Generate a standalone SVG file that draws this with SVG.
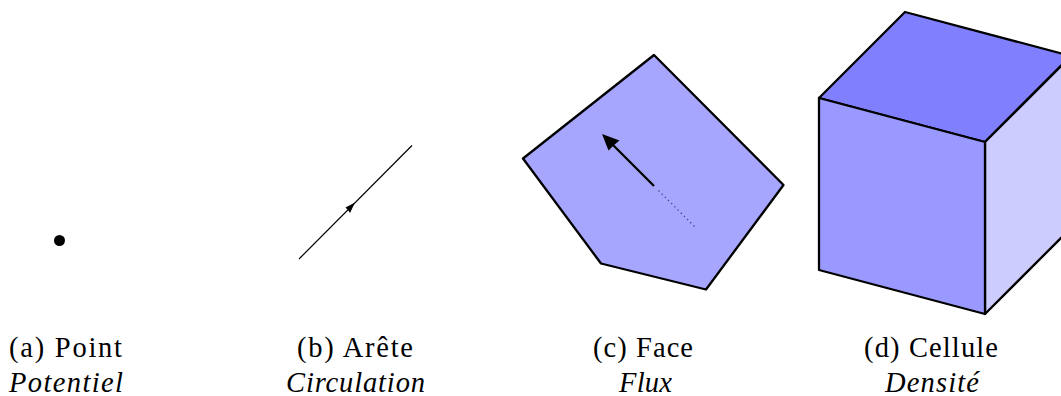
<svg xmlns="http://www.w3.org/2000/svg" width="1061" height="396" viewBox="0 0 1061 396">
<style>
text{font-family:"Liberation Serif","Times New Roman",serif;font-size:28.5px;fill:#000;text-anchor:start}
.i{font-style:italic}
.s{stroke:#000;stroke-width:2.300;stroke-linejoin:round;stroke-linecap:round}
</style>
<rect width="1061" height="396" fill="#fff"/>
<g id="point"><circle cx="59.500" cy="240.500" r="5.500" fill="#000"/></g>
<g id="arete">
<line x1="299" y1="259" x2="412" y2="145.500" stroke="#000" stroke-width="1.200"/>
<path d="M355 202.500 L345.500 207.500 L348 210 L350 213Z" fill="#000"/>
</g>
<g id="face">
<polygon class="s" points="654,55 783.500,185 706,289.500 601,263.500 523,158.500" fill="#a6a6ff"/>
<line x1="654" y1="186" x2="613" y2="145" stroke="#000" stroke-width="2.300"/>
<path d="M602 134 L619.500 140.500 L613.500 145.500 L608.500 150.500Z" fill="#000"/>
<line x1="658.500" y1="190.500" x2="696" y2="228" stroke="#444477" stroke-width="1.300" stroke-dasharray="1.300 3.200"/>
</g>
<g id="cellule">
<polygon class="s" points="819,98 905,12 1071,56 985,142" fill="#8080ff"/>
<polygon class="s" points="985,142 1071,56 1071,228 985,314" fill="#ccccff"/>
<polygon class="s" points="819,98 985,142 985,314 819,270" fill="#9999ff"/>
</g>
<g id="labels">
<text x="9" y="357" textLength="113">(a) Point</text>
<text x="9" y="392" class="i" textLength="114">Potentiel</text>
<text x="297" y="357" textLength="116">(b) Arête</text>
<text x="286" y="392" class="i" textLength="139">Circulation</text>
<text x="593" y="357" textLength="100">(c) Face</text>
<text x="619" y="392" class="i" textLength="53">Flux</text>
<text x="864" y="357" textLength="134">(d) Cellule</text>
<text x="885" y="392" class="i" textLength="94">Densité</text>
</g>
</svg>
